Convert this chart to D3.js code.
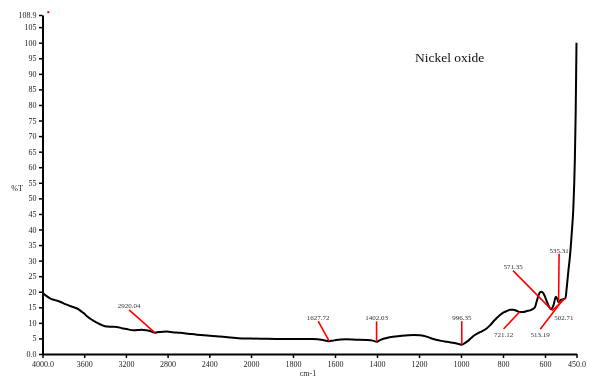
<!DOCTYPE html>
<html>
<head>
<meta charset="utf-8">
<script src="https://cdn.jsdelivr.net/npm/d3@7"></script>
<style>
  html, body { margin: 0; padding: 0; background: #fff; }
  svg { display: block; will-change: transform; }
  text { font-family: "Liberation Serif", "Times New Roman", serif; }
</style>
</head>
<body>
<svg id="chart" width="590" height="380"></svg>
<script>
// FTIR spectrum of nickel oxide: wavenumber (cm-1) vs transmittance (%T)
const wavenumbers = [
  4000, 3960, 3928, 3880, 3832, 3780, 3736, 3690, 3657, 3624, 3600, 3576, 3545, 3513,
  3470, 3432, 3384, 3330, 3288, 3240, 3192, 3129, 3090, 3048, 3000, 2969, 2940, 2920.04,
  2900, 2873, 2809, 2750, 2681, 2600, 2521, 2450, 2393, 2298, 2200, 2087, 2000, 1925,
  1800, 1705, 1658, 1640, 1627.72, 1610, 1595, 1548, 1500, 1452, 1420, 1402.03, 1390,
  1373, 1340, 1290, 1227, 1195, 1160, 1131, 1100, 1068, 1020, 996.35, 980, 965, 941,
  910, 878, 862, 838, 814, 799, 782, 767, 751, 735, 721.12, 703, 687, 671, 659, 648,
  640, 632, 624, 616, 608, 600, 592, 584, 571.35, 560, 548, 540, 535.31, 525, 513.19,
  502.71, 497, 489, 481, 473, 465, 458, 454, 450
];
const transmittance = [
  19.7, 18.6, 17.9, 17.3, 16.8, 16.0, 15.4, 14.9, 14.4, 13.6, 13.0, 12.2, 11.4, 10.7,
  9.9, 9.3, 8.8, 8.75, 8.7, 8.3, 8.0, 7.6, 7.7, 7.8, 7.6, 7.4, 7.0, 6.8,
  7.0, 7.1, 7.2, 7.0, 6.8, 6.5, 6.2, 6.0, 5.9, 5.6, 5.3, 5.0, 4.95, 4.9,
  4.8, 4.8, 4.5, 4.25, 4.1, 4.3, 4.5, 4.7, 4.6, 4.5, 4.3, 3.9, 4.3,
  4.8, 5.4, 5.8, 6.1, 6.0, 5.5, 4.8, 4.3, 3.9, 3.4, 3.0, 3.6, 4.3, 5.8,
  7.0, 8.2, 9.2, 11.0, 12.5, 13.3, 13.8, 14.2, 14.2, 13.9, 13.5, 13.5, 13.8, 14.0, 14.4, 15.0,
  16.8, 18.6, 19.8, 20.0, 19.5, 18.4, 17.0, 15.7, 14.4, 15.6, 18.4, 17.4, 16.6, 17.4, 17.6,
  17.9, 21.0, 26.5, 31.5, 38.5, 47.0, 62.0, 77.0, 100.0
];

const xTickValues = [4000, 3600, 3200, 2800, 2400, 2000, 1800, 1600, 1400, 1200, 1000, 800, 600, 450];
const yTickValues = [0, 5, 10, 15, 20, 25, 30, 35, 40, 45, 50, 55, 60, 65, 70, 75, 80, 85, 90, 95, 100, 105, 108.9];

// Labelled absorption bands
const peakWavenumbers = [2920.04, 1627.72, 1402.03, 996.35, 721.12, 571.35, 535.31, 513.19, 502.71];
const peakTransmittance = [6.8, 4.1, 3.9, 3.0, 13.5, 14.4, 16.6, 17.6, 17.9];
const peakLabels = ["2920.04", "1627.72", "1402.03", "996.35", "721.12", "571.35", "535.31", "513.19", "502.71"];

// Leader layout for each band label: text offset and leader start offset (px) from the band point
const leaderLayout = [
  { tx: -26, ty: -26, lx: -26, ly: -23 },
  { tx: -11, ty: -22.5, lx: -11, ly: -20 },
  { tx: 0, ty: -23, lx: 0, ly: -20.5 },
  { tx: 0, ty: -26, lx: 0, ly: -23.5 },
  { tx: -16, ty: 23, lx: -16, ly: 17 },
  { tx: -38, ty: -42, lx: -38, ly: -38.5 },
  { tx: 0.5, ty: -51, lx: 0.5, ly: -48.5 },
  { tx: -23, ty: 36, lx: -23, ly: 30 },
  { tx: -1.5, ty: 20, lx: -13.5, ly: 12.5 }
];

const svg = d3.select("#chart");

// The wavenumber axis is expanded below 2000 cm-1 (two segments)
const x = d3.scaleLinear().domain([4000, 2000, 450]).range([42.5, 251, 576.5]);
const y = d3.scaleLinear().domain([0, 108.9]).range([354, 15]);

const fmtX = d => (d === 4000 || d === 450) ? d3.format(".1f")(d) : String(d);
const fmtY = d => (d === 0) ? "0.0" : (d % 1 ? d3.format(".1f")(d) : String(d));

// X axis
const gx = svg.append("g")
  .attr("transform", `translate(0,${y(0)})`)
  .call(d3.axisBottom(x).tickValues(xTickValues).tickFormat(fmtX).tickSize(4).tickSizeOuter(0).tickPadding(3));
gx.select(".domain").attr("stroke", "#000").attr("stroke-width", 2);
gx.selectAll(".tick line").attr("stroke", "#000").attr("stroke-width", 1.5);
gx.selectAll(".tick text").attr("font-size", 8).attr("fill", "#222")
  .style("font-family", "'Liberation Serif', serif");

// Y axis
const gy = svg.append("g")
  .attr("transform", `translate(${x(4000)},0)`)
  .call(d3.axisLeft(y).tickValues(yTickValues).tickFormat(fmtY).tickSize(3.5).tickSizeOuter(0).tickPadding(2.5));
gy.select(".domain").attr("stroke", "#000").attr("stroke-width", 2);
gy.selectAll(".tick line").attr("stroke", "#000").attr("stroke-width", 1.5);
gy.selectAll(".tick text").attr("font-size", 8).attr("fill", "#222")
  .style("font-family", "'Liberation Serif', serif");

// Axis titles
svg.append("text").attr("x", 17).attr("y", 189).attr("text-anchor", "middle")
  .attr("dominant-baseline", "middle").attr("font-size", 8).attr("fill", "#222").text("%T");
svg.append("text").attr("x", 308).attr("y", 374).attr("text-anchor", "middle")
  .attr("dominant-baseline", "middle").attr("font-size", 8).attr("fill", "#222").text("cm-1");

// Sample name
svg.append("text").attr("x", 415).attr("y", 62).attr("font-size", 13.5).attr("fill", "#111")
  .text("Nickel oxide");

// Small red cursor marker at the top of the frame
svg.append("rect").attr("x", x(3944) - 1).attr("y", y(109.8) - 1).attr("width", 2).attr("height", 2).attr("fill", "#e00");

// Spectrum
const spectrum = wavenumbers.map((w, i) => ({ w, t: transmittance[i] }));
svg.append("path")
  .datum(spectrum)
  .attr("fill", "none")
  .attr("stroke", "#000")
  .attr("stroke-width", 2)
  .attr("stroke-linejoin", "round")
  .attr("d", d3.line().x(d => x(d.w)).y(d => y(d.t)).curve(d3.curveMonotoneX));

// Band leaders and labels
const peaks = peakWavenumbers.map((w, i) => ({ w, t: peakTransmittance[i], label: peakLabels[i], o: leaderLayout[i] }));
const pg = svg.append("g");
pg.selectAll("line").data(peaks).join("line")
  .attr("x1", d => x(d.w) + d.o.lx).attr("y1", d => y(d.t) + d.o.ly)
  .attr("x2", d => x(d.w)).attr("y2", d => y(d.t))
  .attr("stroke", "#f00").attr("stroke-width", 1.6);
pg.selectAll("text").data(peaks).join("text")
  .attr("x", d => x(d.w) + d.o.tx).attr("y", d => y(d.t) + d.o.ty)
  .attr("text-anchor", "middle").attr("dominant-baseline", "middle")
  .attr("font-size", 7).attr("fill", "#333")
  .text(d => d.label);
</script>
</body>
</html>
